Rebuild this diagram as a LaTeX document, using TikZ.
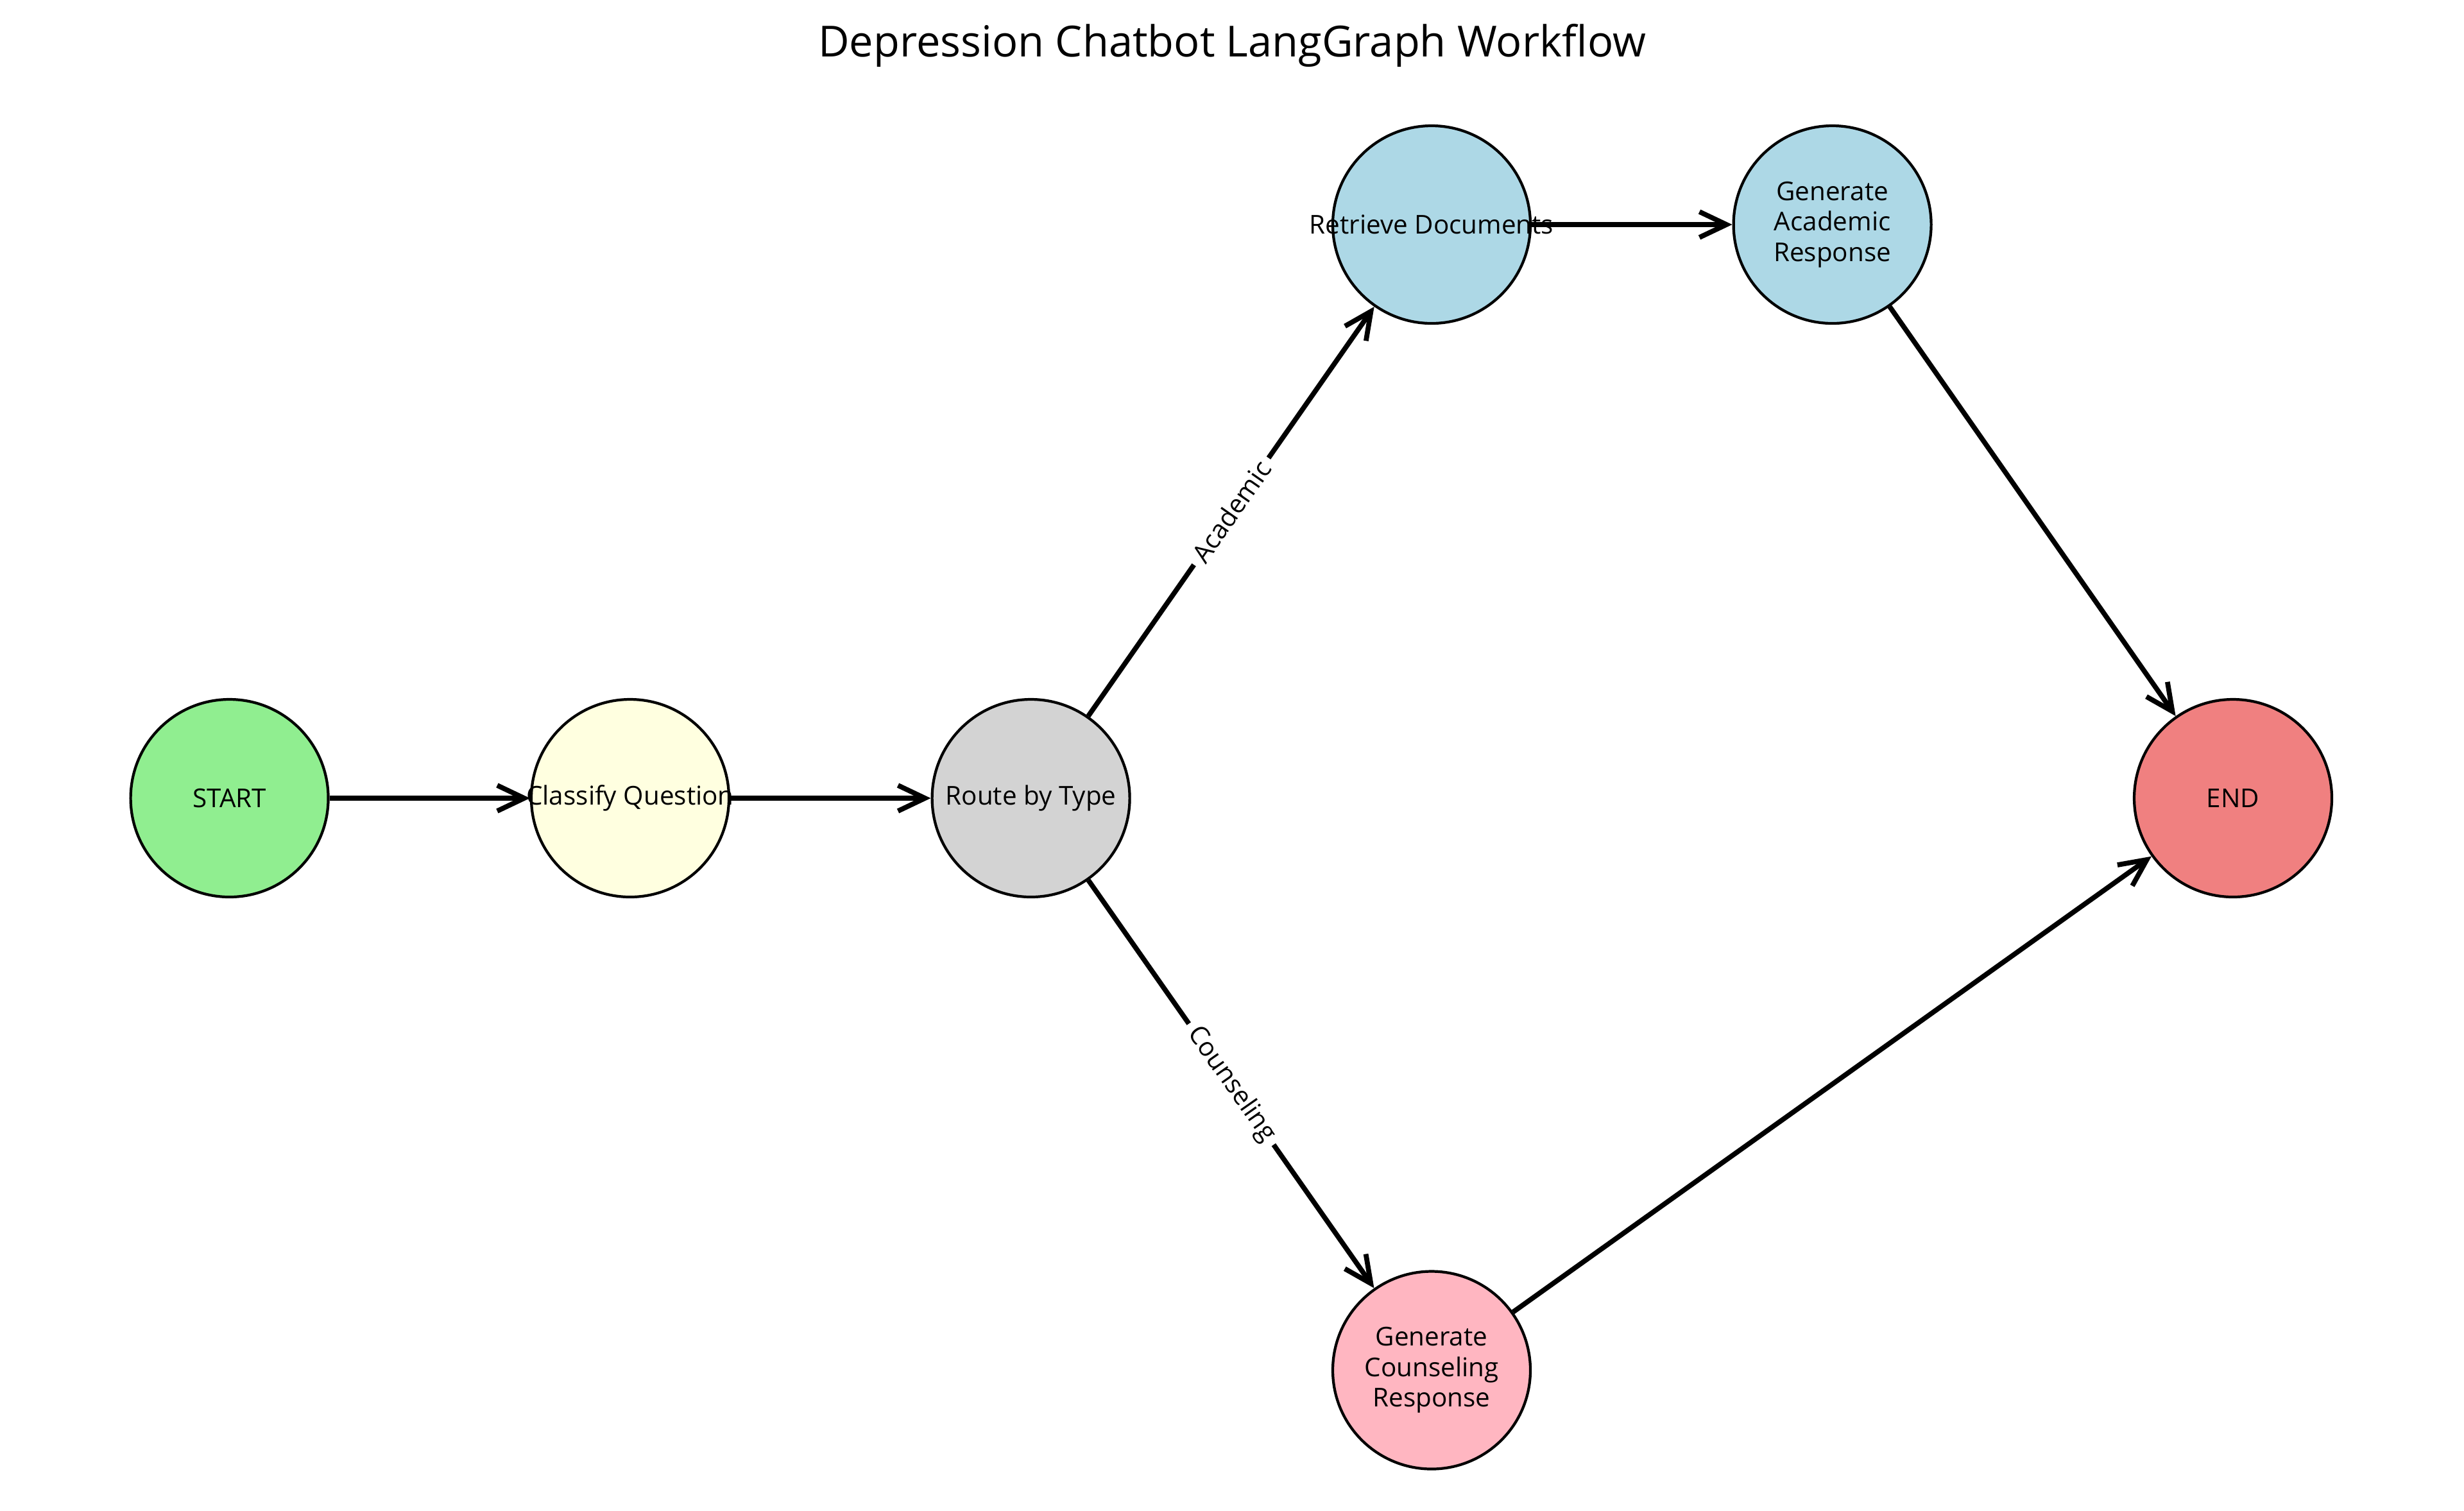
\documentclass[tikz,border=0pt]{standalone}
\usepackage{fontspec}
\setmainfont{Open Sans}
\usetikzlibrary{arrows.meta}
\definecolor{lgreen}{HTML}{90EE90}
\definecolor{lyellow}{HTML}{FFFFE0}
\definecolor{lgray}{HTML}{D3D3D3}
\definecolor{lblue}{HTML}{ADD8E6}
\definecolor{lcoral}{HTML}{F08080}
\definecolor{lpink}{HTML}{FFB6C1}
\tikzset{
  wfnode/.style={circle, draw=black, line width=1.2pt, minimum size=3.08cm, inner sep=0pt},
  wftext/.style={align=center, font=\fontsize{11.5}{13.5}\selectfont, inner sep=0pt},
  wfarrow/.style={line width=2.2pt, -{Straight Barb[length=0.42cm, width=0.40cm, line width=2.2pt]}},
  wflabel/.style={fill=white, inner sep=3pt, font=\fontsize{11.5}{13.5}\selectfont}
}
\begin{document}
\begin{tikzpicture}
\useasboundingbox (0,0) rectangle (38.4,-23.54);
\node[font=\fontsize{19}{23}\selectfont, anchor=base] (title) at (19.2,-0.88) {Depression Chatbot LangGraph Workflow};
% circles
\node[wfnode, fill=lgreen] (start) at (3.576,-12.44) {};
\node[wfnode, fill=lyellow] (classify) at (9.82,-12.44) {};
\node[wfnode, fill=lgray] (route) at (16.066,-12.44) {};
\node[wfnode, fill=lblue] (retrieve) at (22.31,-3.50) {};
\node[wfnode, fill=lblue] (genacad) at (28.556,-3.50) {};
\node[wfnode, fill=lcoral] (end) at (34.80,-12.44) {};
\node[wfnode, fill=lpink] (gencoun) at (22.31,-21.355) {};
% edges
\draw[wfarrow] (start) -- (classify);
\draw[wfarrow] (classify) -- (route);
\draw[wfarrow] (route) -- node[wflabel, sloped, midway] (labA) {Academic} (retrieve);
\draw[wfarrow] (route) -- node[wflabel, sloped, midway] (labC) {Counseling} (gencoun);
\draw[wfarrow] (retrieve) -- (genacad);
\draw[wfarrow] (genacad) -- (end);
\draw[wfarrow] (gencoun) -- (end);
% texts on top
\node[wftext] (tstart) at (start.center) {START};
\node[wftext] (tclassify) at (classify.center) {Classify Question};
\node[wftext] (troute) at (route.center) {Route by Type};
\node[wftext] (tretrieve) at (retrieve.center) {Retrieve Documents};
\node[wftext] (tgenacad) at (genacad.center) {Generate\\Academic\\Response};
\node[wftext] (tend) at (end.center) {END};
\node[wftext] (tgencoun) at (gencoun.center) {Generate\\Counseling\\Response};
\end{tikzpicture}
\end{document}
